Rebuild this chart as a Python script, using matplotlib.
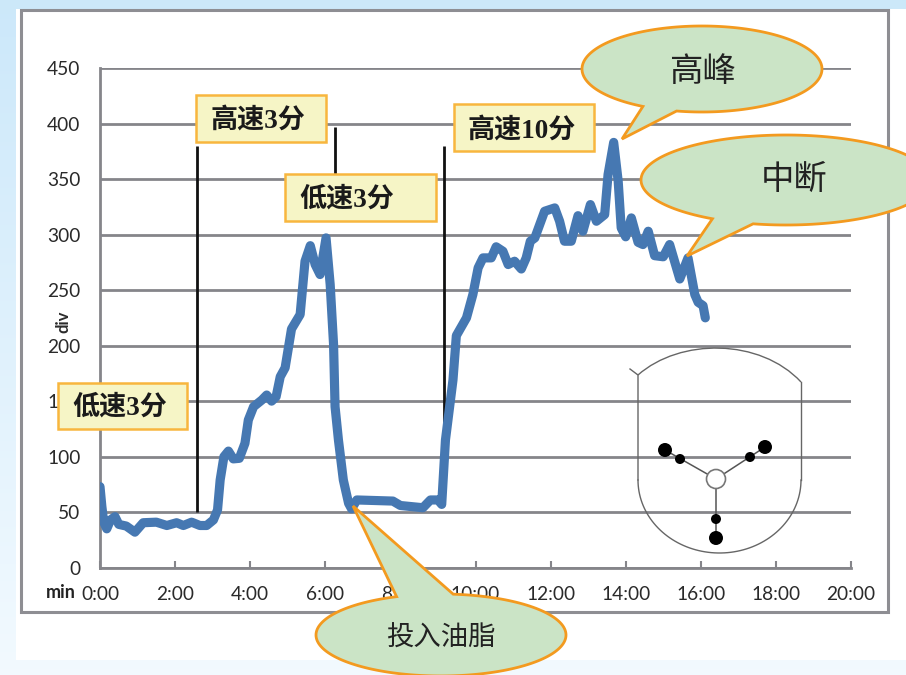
import numpy as np
import matplotlib
matplotlib.use('Agg')
import matplotlib.pyplot as plt
from matplotlib.patches import Rectangle, Polygon, Circle
from matplotlib.path import Path
from matplotlib.patches import PathPatch

W, H = 906, 675

# stirring curve: time in minutes, value in div
times = [0.0, 0.05, 0.1, 0.18, 0.28, 0.4, 0.5, 0.7, 0.93, 1.15, 1.5, 1.78, 2.04, 2.22, 2.44, 2.66, 2.84, 3.02,
         3.13, 3.2, 3.3, 3.42, 3.55, 3.71, 3.86, 3.95, 4.09, 4.31, 4.44, 4.57, 4.69, 4.8, 4.93, 5.1, 5.33, 5.46,
         5.6, 5.73, 5.86, 6.02, 6.13, 6.22, 6.26, 6.35, 6.48, 6.62, 6.7, 6.84, 7.8, 8.0, 8.6, 8.8, 9.0, 9.1, 9.2,
         9.4, 9.49, 9.76, 9.93, 10.07, 10.2, 10.42, 10.55, 10.73, 10.87, 11.04, 11.22, 11.35, 11.46, 11.58, 11.84,
         12.11, 12.24, 12.37, 12.55, 12.73, 12.86, 13.06, 13.22, 13.44, 13.53, 13.68, 13.8, 13.88, 14.0, 14.15,
         14.33, 14.46, 14.6, 14.77, 15.0, 15.17, 15.44, 15.66, 15.84, 15.93, 16.06, 16.12]
values = [73, 55, 41, 35, 43, 46, 39, 37.5, 32, 40.5, 41, 38, 40.5, 38, 41, 38, 38, 43,
          52, 79, 100, 105, 98, 98.5, 112, 133, 145, 151, 155.5, 150, 154, 172, 180, 215, 228, 276,
          290, 273, 264, 297, 255, 201, 145, 115, 79, 58, 53, 61, 60, 56, 54, 61, 61, 57, 115,
          169, 209, 225, 246, 270, 279, 279, 289, 285, 273, 276, 269, 279, 294, 297, 321,
          324, 312, 294, 294, 317, 303, 327, 312, 318, 354, 383, 348, 306, 298, 315,
          293, 291, 303, 281, 280, 291, 260, 279, 246, 239, 236, 225]

y_ticks = [0, 50, 100, 150, 200, 250, 300, 350, 400, 450]
x_ticks = [0, 2, 4, 6, 8, 10, 12, 14, 16, 18, 20]
x_labels = ['0:00', '2:00', '4:00', '6:00', '8:00', '10:00', '12:00', '14:00', '16:00', '18:00', '20:00']

# black marker lines where the speed changes
marker_x = [2.58, 6.26, 9.17]
marker_bottom = [50, 350, 60]
marker_top = [380, 397, 380]

plt.rcParams['font.family'] = ['Lato', 'Noto Sans CJK SC', 'DejaVu Sans']
fig = plt.figure(figsize=(W / 100, H / 100), dpi=100)


def px_axes(z):
    a = fig.add_axes([0, 0, 1, 1], zorder=z)
    a.set_xlim(0, W)
    a.set_ylim(H, 0)
    a.axis('off')
    return a


# background
back = px_axes(0)
grad = np.linspace(0, 1, 256).reshape(-1, 1)
c0 = np.array([0.80, 0.91, 0.98])
c1 = np.array([0.95, 0.98, 1.0])
back.imshow(c0 + (c1 - c0) * grad[..., None], extent=[0, W, H, 0], aspect='auto', zorder=0)
back.set_xlim(0, W)
back.set_ylim(H, 0)
back.add_patch(Rectangle((16, 9), W - 16, 651, fc='white', ec='none', zorder=1))
back.add_patch(Rectangle((21, 10), 867, 602, fc='white', ec='#8e8e93', lw=2.2, zorder=2))

# chart
ax = fig.add_axes([100 / W, 1 - 567.7 / H, 751 / W, 499.7 / H], zorder=1)
ax.patch.set_alpha(0)
ax.set_xlim(0, 20)
ax.set_ylim(0, 450)
ax.set_yticks(y_ticks)
ax.set_xticks(x_ticks)
ax.set_xticklabels(x_labels)
ax.grid(axis='y', color='#85858a', lw=2)
ax.set_axisbelow(True)
for s in ['top', 'right']:
    ax.spines[s].set_visible(False)
for s in ['left', 'bottom']:
    ax.spines[s].set_color('#85858a')
    ax.spines[s].set_linewidth(2)
ax.tick_params(axis='x', direction='in', length=5, width=1.5, color='#85858a', pad=13,
               labelsize=13.8, labelcolor='#2a2a2a')
ax.tick_params(axis='y', length=0, pad=14, labelsize=13.8, labelcolor='#2a2a2a')
ax.vlines(marker_x, marker_bottom, marker_top, color='#111111', lw=2, zorder=3)
ax.plot(times, values, color='#4678b2', lw=6.6, solid_capstyle='round', solid_joinstyle='round', zorder=4)

# annotations on top
front = px_axes(2)
front.text(63, 322, 'div', rotation=90, ha='center', va='center', fontsize=12, fontweight='bold', color='#2a2a2a')
front.text(61, 592, 'min', ha='center', va='center', fontsize=13, fontweight='bold', color='#222222')


def label_box(x0, y0, x1, y1, txt, tx, ty):
    front.add_patch(Rectangle((x0, y0), x1 - x0, y1 - y0, fc='#f6f5c6', ec='#f8b63e', lw=1.8, zorder=5))
    front.text(tx, ty, txt, ha='center', va='center', fontsize=19.5, fontweight='bold', color='#1a1a1a',
               family=['Liberation Serif', 'Noto Sans CJK SC'], zorder=6)


label_box(58, 383, 187, 429, '低速3分', 120, 408)
label_box(196, 95, 326, 142, '高速3分', 258, 121)
label_box(285, 174, 436, 221, '低速3分', 347, 200)
label_box(454, 104, 594, 151, '高速10分', 522, 131)


def callout(cx, cy, rx, ry, p_start, tip, p_end, txt, tx, ty, size):
    # ellipse outline going the long way round, with a tail to the tip
    a0 = np.arctan2((p_start[1] - cy) / ry, (p_start[0] - cx) / rx)
    a1 = np.arctan2((p_end[1] - cy) / ry, (p_end[0] - cx) / rx)
    if a1 < a0:
        a1 += 2 * np.pi
    t = np.linspace(a0, a1, 160)
    pts = np.column_stack([cx + rx * np.cos(t), cy + ry * np.sin(t)])
    pts = np.vstack([pts, tip])
    front.add_patch(Polygon(pts, closed=True, fc='#cbe4c6', ec='#f39a1f', lw=2, joinstyle='miter', zorder=7))
    front.text(tx, ty, txt, ha='center', va='center', fontsize=size, color='#222222',
               family=['Noto Sans CJK SC'], zorder=8)


callout(702, 69, 120, 43, (642, 107), (622, 139), (676, 112), '高峰', 702, 72, 24)
callout(786, 180, 145, 45, (712, 219), (687, 256), (753, 224), '中断', 794, 179, 24)
callout(441, 635, 125, 41, (453, 595), (353, 506), (397, 597), '投入油脂', 441, 638, 19.7)

# impeller sketch
line_c = '#666666'
top = Path([(638, 375), (680, 338), (760, 338), (801, 382)], [Path.MOVETO, Path.CURVE4, Path.CURVE4, Path.CURVE4])
front.add_patch(PathPatch(top, fc='none', ec=line_c, lw=1, zorder=3))
front.plot([630, 638, 638], [369, 375, 480], color=line_c, lw=1, zorder=3)
front.plot([801, 801], [382, 480], color=line_c, lw=1, zorder=3)
t = np.linspace(0, np.pi, 80)
front.plot(719.5 + 81.5 * np.cos(t), 480 + 73 * np.sin(t), color=line_c, lw=1, zorder=3)
for xe, ye in [(665, 450), (765, 447), (716, 538)]:
    front.plot([716, xe], [479, ye], color='#555555', lw=1.1, zorder=3)
front.add_patch(Circle((716, 479), 9.5, fc='white', ec='#777777', lw=1.2, zorder=4))
for xc, yc, r in [(665, 450, 7), (680, 459, 5), (765, 447, 7), (750, 457, 5), (716, 519, 5), (716, 538, 7)]:
    front.add_patch(Circle((xc, yc), r, fc='black', ec='none', zorder=4))

front.set_xlim(0, W)
front.set_ylim(H, 0)
fig.savefig('out.png', dpi=100)
